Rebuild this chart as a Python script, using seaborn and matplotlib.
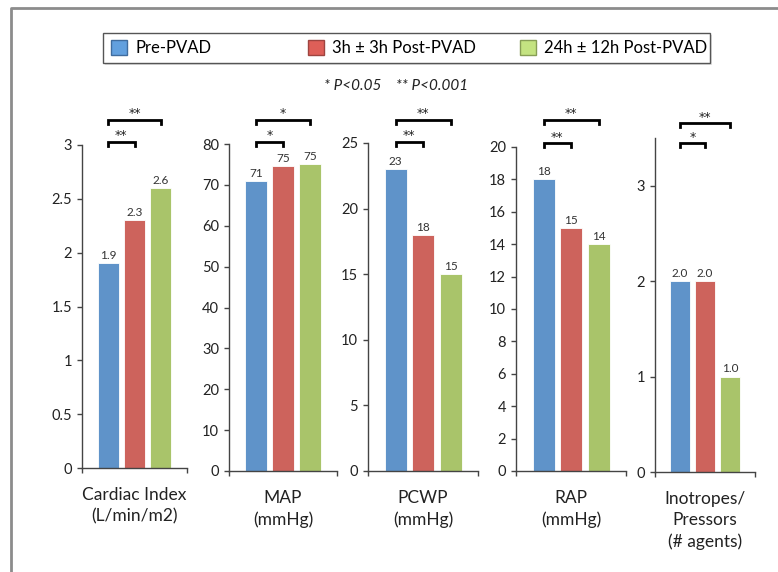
import matplotlib
matplotlib.use("Agg")
import matplotlib.pyplot as plt
import matplotlib.transforms as mtransforms
import numpy as np
import pandas as pd
import seaborn as sns
from matplotlib.lines import Line2D
from matplotlib.patches import Patch, Rectangle

groups = ["Pre-PVAD", "3h ± 3h Post-PVAD", "24h ± 12h Post-PVAD"]
metrics = ["Cardiac Index\n(L/min/m2)", "MAP\n(mmHg)", "PCWP\n(mmHg)", "RAP\n(mmHg)",
           "Inotropes/\nPressors\n(# agents)"]
cardiac_index = [1.9, 2.3, 2.6]
map_values = [71, 74.6, 75]
pcwp = [23, 18, 15]
rap = [18, 15, 14]
inotropes = [2.0, 2.0, 1.0]
value_fmt = ["%.1f", "%.0f", "%.0f", "%.0f", "%.1f"]
y_top = [3, 80, 25, 20, 3.5]
y_tick_top = [3, 80, 25, 20, 3]
y_step = [0.5, 10, 5, 2, 1]
stars_inner = ["**", "*", "**", "**", "*"]   # pre vs 3h
stars_outer = ["**", "*", "**", "**", "**"]  # pre vs 24h

bar_colors = ["#5F93C9", "#CD635C", "#A9C46A"]
legend_colors = ["#62A0DE", "#DE5F58", "#C4E381"]
legend_edges = ["#3F6C9E", "#9E4440", "#879E55"]

W, H = 778, 572
# axes boxes in pixels: left, top, right, bottom
axes_px = [(82, 145, 187, 468), (229, 144, 337, 471), (368, 143, 478, 471),
           (516, 147, 626, 471), (655, 138, 755, 472)]
inner_y = [142, 142, 142, 143, 143]
outer_y = [120, 120, 120, 120, 123]
legend_x = [111, 308, 520]

values = [cardiac_index, map_values, pcwp, rap, inotropes]
df = pd.DataFrame({
    "metric": np.repeat(metrics, len(groups)),
    "group": groups * len(metrics),
    "value": np.concatenate(values),
})

plt.rcParams["font.family"] = ["Lato", "DejaVu Sans"]
fig = plt.figure(figsize=(W / 100, H / 100), dpi=100)


def fy(py):
    return 1 - py / H


for i, metric in enumerate(metrics):
    left, top, right, bottom = axes_px[i]
    ax = fig.add_axes([left / W, fy(bottom), (right - left) / W, (bottom - top) / H])
    sub = df[df["metric"] == metric]
    sns.barplot(data=sub, x="metric", y="value", hue="group", hue_order=groups,
                palette=bar_colors, saturation=1, width=0.75, gap=0.2, errorbar=None,
                edgecolor="white", linewidth=0.6, legend=False, ax=ax)
    for container in ax.containers:
        ax.bar_label(container, fmt=value_fmt[i], padding=1.5, fontsize=8.5, color="#333333")

    ax.set_xlim(-0.5, 0.5)
    ax.set_ylim(0, y_top[i])
    ax.set_yticks(np.arange(0, y_tick_top[i] + 1e-9, y_step[i]))
    ax.yaxis.set_major_formatter(matplotlib.ticker.FormatStrFormatter("%g"))
    ax.set_xticks([-0.5, 0.5])
    ax.tick_params(axis="x", labelbottom=False, length=3.6, width=1, color="#444444")
    ax.tick_params(axis="y", labelsize=10.5, length=3.6, width=1, pad=3.5,
                   color="#444444", labelcolor="#222222")
    ax.set_ylabel("")
    ax.set_xlabel(metric, fontsize=12.5, labelpad=10, linespacing=1.4, color="#222222")
    for side in ["top", "right"]:
        ax.spines[side].set_visible(False)
    for side in ["left", "bottom"]:
        ax.spines[side].set_color("#444444")
        ax.spines[side].set_linewidth(1)
    ax.patch.set_alpha(0)

    # significance brackets: x in data units, y in figure units
    blend = mtransforms.blended_transform_factory(ax.transData, fig.transFigure)
    for x_end, ypx, stars in [(0.0, inner_y[i], stars_inner[i]), (0.25, outer_y[i], stars_outer[i])]:
        x0 = -0.25
        ax.add_line(Line2D([x0, x0, x_end, x_end], [fy(ypx + 4), fy(ypx), fy(ypx), fy(ypx + 4)],
                           transform=blend, color="black", lw=2, clip_on=False,
                           solid_joinstyle="miter"))
        ax.text((x0 + x_end) / 2, fy(ypx - 6), stars, transform=blend, ha="center",
                va="center", fontsize=9, family="DejaVu Sans", color="#222222")

fig.text(396 / W, fy(86), "* P<0.05    ** P<0.001", ha="center", va="center",
         fontsize=11, style="italic", color="#222222")

# legend box with a soft shadow, entries placed like the original
fig.add_artist(Rectangle(((103 + 2) / W, fy(63 + 2)), 607 / W, 30 / H, transform=fig.transFigure,
                         facecolor="#000000", alpha=0.12, edgecolor="none"))
fig.add_artist(Rectangle((103 / W, fy(63)), 607 / W, 30 / H, transform=fig.transFigure,
                         facecolor="white", edgecolor="#555555", lw=1))
for k, group in enumerate(groups):
    handle = Patch(facecolor=legend_colors[k], edgecolor=legend_edges[k], linewidth=1)
    fig.legend([handle], [group], loc="center left", bbox_to_anchor=(legend_x[k] / W, fy(48)),
               fontsize=12, frameon=False, borderpad=0, borderaxespad=0,
               handlelength=0.95, handleheight=1.0, handletextpad=0.5)

# outer frame (left and top edges)
fig.add_artist(Line2D([11 / W, 11 / W, 1], [0, fy(8), fy(8)], transform=fig.transFigure,
                      color="#8C8C8C", lw=2))

fig.savefig("out.png", dpi=100)
